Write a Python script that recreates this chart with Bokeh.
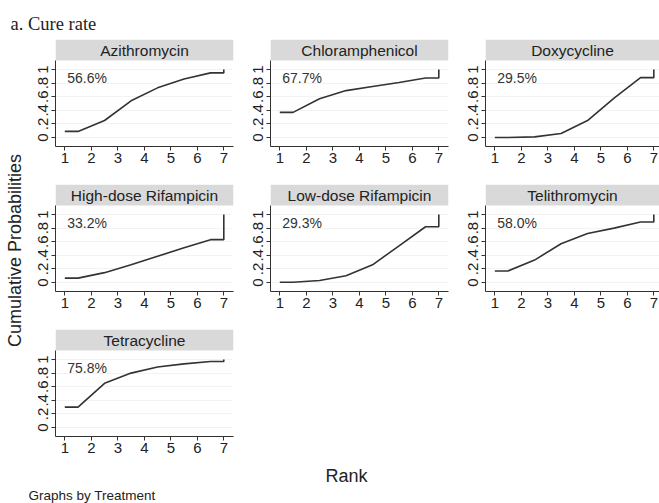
import math
from bokeh.plotting import figure
from bokeh.models import Range1d, FixedTicker, Label, BoxAnnotation
from bokeh.layouts import column, row
from bokeh.embed import file_html
from bokeh.resources import INLINE

# ---------------- data ----------------
treatments = ["Azithromycin", "Chloramphenicol", "Doxycycline",
              "High-dose Rifampicin", "Low-dose Rifampicin", "Telithromycin",
              "Tetracycline"]
sucra_labels = ["56.6%", "67.7%", "29.5%", "33.2%", "29.3%", "58.0%", "75.8%"]
ranks = [1, 2, 3, 4, 5, 6, 7]
y_ticks = [0, 0.2, 0.4, 0.6, 0.8, 1.0]
y_tick_labels = ["0", ".2", ".4", ".6", ".8", "1"]

# cumulative probability of being ranked 1..7
azithromycin = [0.09, 0.25, 0.54, 0.73, 0.86, 0.95, 1.0]
chloramphenicol = [0.37, 0.57, 0.69, 0.75, 0.81, 0.875, 1.0]
doxycycline = [0.0, 0.01, 0.06, 0.25, 0.58, 0.88, 1.0]
high_dose_rifampicin = [0.065, 0.145, 0.26, 0.385, 0.51, 0.63, 1.0]
low_dose_rifampicin = [0.005, 0.03, 0.10, 0.26, 0.54, 0.82, 1.0]
telithromycin = [0.17, 0.33, 0.57, 0.72, 0.80, 0.89, 1.0]
tetracycline = [0.30, 0.65, 0.80, 0.89, 0.935, 0.97, 1.0]
series = [azithromycin, chloramphenicol, doxycycline, high_dose_rifampicin,
          low_dose_rifampicin, telithromycin, tetracycline]

# ---------------- style ----------------
FONT = "Liberation Sans"
SERIF = "Liberation Serif"
TXT = "#222222"
STRIP = "#d9d9d9"
LINE = "#333333"
PX_PER_X = 26.5
X_START = 0.649
Y_START, Y_END = -0.132, 1.441
STRIP_BOTTOM = 1.132
FRAME_H = 107


def stata_path(cum):
    # x: 1, 1.5, 2.5, ... 6.5, 7, 7 (Stata-style cumulative rank curve)
    xs = [ranks[0], ranks[0] + 0.5] + [r + 0.5 for r in ranks[1:-1]] + [ranks[-1], ranks[-1]]
    ys = [cum[0], cum[0]] + cum[1:-1] + [cum[-2], cum[-1]]
    return xs, ys


def make_panel(name, cum, lab, left_border, frame_w, right_border, bottom_border):
    x_end = X_START + frame_w / PX_PER_X
    p = figure(frame_width=frame_w, frame_height=FRAME_H,
               x_range=Range1d(X_START, x_end), y_range=Range1d(Y_START, Y_END),
               min_border_left=left_border, min_border_right=right_border,
               min_border_top=0, min_border_bottom=bottom_border,
               output_backend="svg", toolbar_location=None, title=None)
    p.outline_line_color = None
    p.background_fill_color = "white"
    p.border_fill_color = "white"

    # strip
    p.add_layout(BoxAnnotation(bottom=STRIP_BOTTOM, fill_color=STRIP, fill_alpha=1.0,
                               line_color=None, level="underlay"))
    p.add_layout(Label(x=(X_START + x_end) / 2, y=(STRIP_BOTTOM + Y_END) / 2, text=name,
                       text_align="center", text_baseline="middle",
                       text_font=FONT, text_font_size="15.5px", text_color=TXT))

    # axes
    p.xaxis.ticker = FixedTicker(ticks=ranks)
    p.yaxis.ticker = FixedTicker(ticks=y_ticks)
    p.yaxis.major_label_overrides = {t: l for t, l in zip(y_ticks, y_tick_labels)}
    p.yaxis.major_label_orientation = "vertical"
    p.yaxis.bounds = (Y_START, STRIP_BOTTOM)
    for ax in (p.xaxis, p.yaxis):
        ax.axis_line_color = "#333333"
        ax.axis_line_width = 1
        ax.major_tick_line_color = "#333333"
        ax.major_tick_out = 4
        ax.major_tick_in = 0
        ax.minor_tick_line_color = None
        ax.major_label_text_font = FONT
        ax.major_label_text_font_size = "15px"
        ax.major_label_text_color = TXT
    p.xaxis.major_label_standoff = 2
    p.yaxis.major_label_standoff = 3

    p.xgrid.visible = False
    p.ygrid.ticker = FixedTicker(ticks=y_ticks)
    p.ygrid.grid_line_color = "#e6e6e6"
    p.ygrid.grid_line_dash = "1 1"
    p.ygrid.level = "underlay"

    xs, ys = stata_path(cum)
    p.line(xs, ys, line_color=LINE, line_width=1.6)

    p.add_layout(Label(x=1.09, y=0.87, text=lab, text_align="left", text_baseline="middle",
                       text_font=FONT, text_font_size="14px", text_color="#333333"))
    return p


def blank(w, h):
    f = figure(width=w, height=h, x_range=Range1d(0, w), y_range=Range1d(0, h),
               min_border=0, x_axis_location=None, y_axis_location=None,
               output_backend="svg", toolbar_location=None, title=None)
    f.outline_line_color = None
    f.grid.visible = False
    return f


YLAB_W = 26
panels = []
for i, (name, cum, lab) in enumerate(zip(treatments, series, sucra_labels)):
    col = i % 3
    r = i // 3
    lb = 55 - YLAB_W if col == 0 else 33
    fw = 174 if col == 2 else 178
    rb = 0 if col == 2 else 4
    bb = 26 if r == 2 else 38
    panels.append(make_panel(name, cum, lab, lb, fw, rb, bb))

header = blank(659, 39)
header.add_layout(Label(x=10, y=15.5, text="a. Cure rate", text_align="left",
                        text_baseline="alphabetic", text_font=SERIF,
                        text_font_size="18.5px", text_color=TXT))

ylab = blank(YLAB_W, 423)
ylab.add_layout(Label(x=14, y=212, text="Cumulative Probabilities", angle=math.pi / 2,
                      text_align="center", text_baseline="middle", text_font=FONT,
                      text_font_size="18px", text_color=TXT))

footer = blank(659, 41)
footer.add_layout(Label(x=346, y=27.5, text="Rank", text_align="center",
                        text_baseline="middle", text_font=FONT,
                        text_font_size="18px", text_color=TXT))
footer.add_layout(Label(x=28, y=8, text="Graphs by Treatment", text_align="left",
                        text_baseline="middle", text_font=FONT,
                        text_font_size="13.5px", text_color=TXT))

grid = column(row(*panels[0:3]), row(*panels[3:6]), row(panels[6]))
layout = column(header, row(ylab, grid), footer)

open("out.html", "w").write(file_html(layout, INLINE))
